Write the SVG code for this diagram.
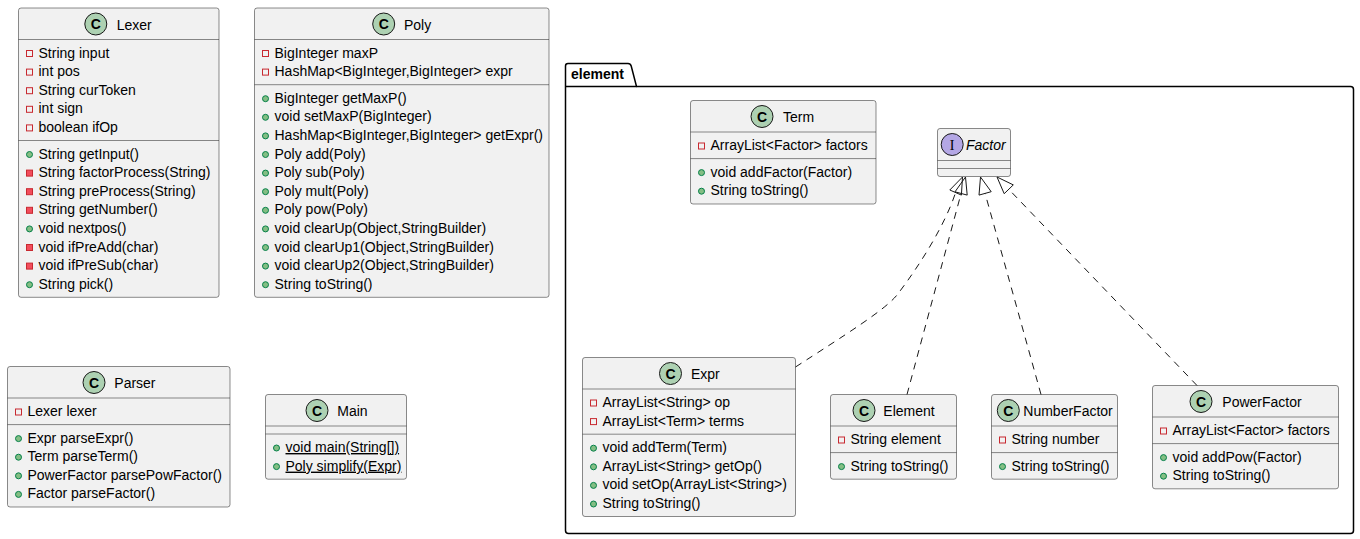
<svg xmlns="http://www.w3.org/2000/svg" width="1360" height="539" viewBox="0 0 1360 539">
<defs>
<style>
text{font-family:"Liberation Sans",Arial,sans-serif;font-size:14px;fill:#000}
.box{fill:#F1F1F1;stroke:#181818;stroke-width:0.5}
.sep{stroke:#181818;stroke-width:0.5}
.ci{fill:#ADD1B2;stroke:#181818;stroke-width:1}
.ii{fill:#B4A7E5;stroke:#181818;stroke-width:1}
.ic{font-size:14px;font-weight:bold;text-anchor:middle}
.pf{fill:none;stroke:#C82930;stroke-width:1}
.pm{fill:#F24D5C;stroke:#C82930;stroke-width:1}
.pub{fill:#84BE84;stroke:#038048;stroke-width:1}
.conn{fill:none;stroke:#181818;stroke-width:1;stroke-dasharray:7,6}
.head{fill:none;stroke:#181818;stroke-width:1}
.pkg{fill:none;stroke:#000;stroke-width:1.5}
</style>
</defs>

<g id="package-element">
<path class="pkg" d="M565.5,86.5 L565.5,66 Q565.5,63.5 568,63.5 L628,63.5 Q630.5,63.5 631.2,66 L636.5,86.5 L1350.5,86.5 Q1353.5,86.5 1353.5,89.5 L1353.5,530.5 Q1353.5,533.5 1350.5,533.5 L568.5,533.5 Q565.5,533.5 565.5,530.5 Z"/>
<line class="pkg" x1="565.5" y1="86.5" x2="636.5" y2="86.5"/>
<text x="571" y="79" style="font-weight:bold">element</text>
</g>

<g id="Lexer">
<rect class="box" x="18.5" y="8" width="200.5" height="289.3" rx="2.5"/>
<circle class="ci" cx="95.8" cy="24" r="11"/><text class="ic" x="95.8" y="29">C</text>
<text x="116.7" y="29.5">Lexer</text>
<line class="sep" x1="18.5" y1="39.5" x2="219" y2="39.5"/>
<rect class="pf" x="26.5" y="50.5" width="6" height="6"/><text x="38.5" y="57.5">String input</text>
<rect class="pf" x="26.5" y="69.1" width="6" height="6"/><text x="38.5" y="76.1">int pos</text>
<rect class="pf" x="26.5" y="87.7" width="6" height="6"/><text x="38.5" y="94.7">String curToken</text>
<rect class="pf" x="26.5" y="106.3" width="6" height="6"/><text x="38.5" y="113.3">int sign</text>
<rect class="pf" x="26.5" y="124.9" width="6" height="6"/><text x="38.5" y="131.9">boolean ifOp</text>
<line class="sep" x1="18.5" y1="140.5" x2="219" y2="140.5"/>
<circle class="pub" cx="29.5" cy="154.5" r="3"/><text x="38.5" y="158.5">String getInput()</text>
<rect class="pm" x="26.5" y="170.1" width="6" height="6"/><text x="38.5" y="177.1">String factorProcess(String)</text>
<rect class="pm" x="26.5" y="188.7" width="6" height="6"/><text x="38.5" y="195.7">String preProcess(String)</text>
<rect class="pm" x="26.5" y="207.3" width="6" height="6"/><text x="38.5" y="214.3">String getNumber()</text>
<circle class="pub" cx="29.5" cy="228.9" r="3"/><text x="38.5" y="232.9">void nextpos()</text>
<rect class="pm" x="26.5" y="244.5" width="6" height="6"/><text x="38.5" y="251.5">void ifPreAdd(char)</text>
<rect class="pm" x="26.5" y="263.1" width="6" height="6"/><text x="38.5" y="270.1">void ifPreSub(char)</text>
<circle class="pub" cx="29.5" cy="284.7" r="3"/><text x="38.5" y="288.7">String pick()</text>
</g>

<g id="Poly">
<rect class="box" x="254.5" y="8" width="294.5" height="289.3" rx="2.5"/>
<circle class="ci" cx="383.7" cy="24" r="11"/><text class="ic" x="383.7" y="29">C</text>
<text x="404" y="29.5">Poly</text>
<line class="sep" x1="254.5" y1="39.5" x2="549" y2="39.5"/>
<rect class="pf" x="262.5" y="50.5" width="6" height="6"/><text x="274.5" y="57.5">BigInteger maxP</text>
<rect class="pf" x="262.5" y="69.1" width="6" height="6"/><text x="274.5" y="76.1">HashMap&lt;BigInteger,BigInteger&gt; expr</text>
<line class="sep" x1="254.5" y1="84.7" x2="549" y2="84.7"/>
<circle class="pub" cx="265.5" cy="98.7" r="3"/><text x="274.5" y="102.7">BigInteger getMaxP()</text>
<circle class="pub" cx="265.5" cy="117.3" r="3"/><text x="274.5" y="121.3">void setMaxP(BigInteger)</text>
<circle class="pub" cx="265.5" cy="135.9" r="3"/><text x="274.5" y="139.9">HashMap&lt;BigInteger,BigInteger&gt; getExpr()</text>
<circle class="pub" cx="265.5" cy="154.5" r="3"/><text x="274.5" y="158.5">Poly add(Poly)</text>
<circle class="pub" cx="265.5" cy="173.1" r="3"/><text x="274.5" y="177.1">Poly sub(Poly)</text>
<circle class="pub" cx="265.5" cy="191.7" r="3"/><text x="274.5" y="195.7">Poly mult(Poly)</text>
<circle class="pub" cx="265.5" cy="210.3" r="3"/><text x="274.5" y="214.3">Poly pow(Poly)</text>
<circle class="pub" cx="265.5" cy="228.9" r="3"/><text x="274.5" y="232.9">void clearUp(Object,StringBuilder)</text>
<circle class="pub" cx="265.5" cy="247.5" r="3"/><text x="274.5" y="251.5">void clearUp1(Object,StringBuilder)</text>
<circle class="pub" cx="265.5" cy="266.1" r="3"/><text x="274.5" y="270.1">void clearUp2(Object,StringBuilder)</text>
<circle class="pub" cx="265.5" cy="284.7" r="3"/><text x="274.5" y="288.7">String toString()</text>
</g>

<g id="Parser">
<rect class="box" x="7.5" y="366.5" width="222.5" height="140.5" rx="2.5"/>
<circle class="ci" cx="94" cy="382.5" r="11"/><text class="ic" x="94" y="387.5">C</text>
<text x="114.3" y="388">Parser</text>
<line class="sep" x1="7.5" y1="398" x2="230" y2="398"/>
<rect class="pf" x="15.5" y="409" width="6" height="6"/><text x="27.5" y="416">Lexer lexer</text>
<line class="sep" x1="7.5" y1="424.6" x2="230" y2="424.6"/>
<circle class="pub" cx="18.5" cy="438.6" r="3"/><text x="27.5" y="442.6">Expr parseExpr()</text>
<circle class="pub" cx="18.5" cy="457.2" r="3"/><text x="27.5" y="461.2">Term parseTerm()</text>
<circle class="pub" cx="18.5" cy="475.8" r="3"/><text x="27.5" y="479.8">PowerFactor parsePowFactor()</text>
<circle class="pub" cx="18.5" cy="494.4" r="3"/><text x="27.5" y="498.4">Factor parseFactor()</text>
</g>

<g id="Main">
<rect class="box" x="265.5" y="394.5" width="141" height="84.7" rx="2.5"/>
<circle class="ci" cx="317" cy="410.5" r="11"/><text class="ic" x="317" y="415.5">C</text>
<text x="337.3" y="416">Main</text>
<line class="sep" x1="265.5" y1="426" x2="406.5" y2="426"/>
<line class="sep" x1="265.5" y1="434" x2="406.5" y2="434"/>
<circle class="pub" cx="276.5" cy="448" r="3"/><text x="285.5" y="452" text-decoration="underline">void main(String[])</text>
<circle class="pub" cx="276.5" cy="466.6" r="3"/><text x="285.5" y="470.6" text-decoration="underline">Poly simplify(Expr)</text>
</g>

<g id="Term">
<rect class="box" x="690.5" y="100.5" width="185.5" height="103.5" rx="2.5"/>
<circle class="ci" cx="762" cy="116.5" r="11"/><text class="ic" x="762" y="121.5">C</text>
<text x="783" y="122">Term</text>
<line class="sep" x1="690.5" y1="132" x2="876" y2="132"/>
<rect class="pf" x="698.5" y="143" width="6" height="6"/><text x="710.5" y="150">ArrayList&lt;Factor&gt; factors</text>
<line class="sep" x1="690.5" y1="158.6" x2="876" y2="158.6"/>
<circle class="pub" cx="701.5" cy="172.6" r="3"/><text x="710.5" y="176.6">void addFactor(Factor)</text>
<circle class="pub" cx="701.5" cy="191.2" r="3"/><text x="710.5" y="195.2">String toString()</text>
</g>

<g id="Factor">
<rect class="box" x="937.5" y="128.5" width="73" height="48" rx="2.5"/>
<circle class="ii" cx="952.2" cy="144.5" r="11"/><text class="ic" x="952.2" y="149.5" style="font-family:'Liberation Serif',serif;font-weight:normal">I</text>
<text x="966" y="150" style="font-style:italic">Factor</text>
<line class="sep" x1="937.5" y1="160.5" x2="1010.5" y2="160.5"/>
<line class="sep" x1="937.5" y1="168.5" x2="1010.5" y2="168.5"/>
</g>

<g id="Expr">
<rect class="box" x="582.5" y="357.5" width="213" height="159" rx="2.5"/>
<circle class="ci" cx="670.5" cy="373.5" r="11"/><text class="ic" x="670.5" y="378.5">C</text>
<text x="691" y="379">Expr</text>
<line class="sep" x1="582.5" y1="389" x2="795.5" y2="389"/>
<rect class="pf" x="590.5" y="400" width="6" height="6"/><text x="602.5" y="407">ArrayList&lt;String&gt; op</text>
<rect class="pf" x="590.5" y="418.6" width="6" height="6"/><text x="602.5" y="425.6">ArrayList&lt;Term&gt; terms</text>
<line class="sep" x1="582.5" y1="434.2" x2="795.5" y2="434.2"/>
<circle class="pub" cx="593.5" cy="448.2" r="3"/><text x="602.5" y="452.2">void addTerm(Term)</text>
<circle class="pub" cx="593.5" cy="466.8" r="3"/><text x="602.5" y="470.8">ArrayList&lt;String&gt; getOp()</text>
<circle class="pub" cx="593.5" cy="485.4" r="3"/><text x="602.5" y="489.4">void setOp(ArrayList&lt;String&gt;)</text>
<circle class="pub" cx="593.5" cy="504" r="3"/><text x="602.5" y="508">String toString()</text>
</g>

<g id="Element">
<rect class="box" x="830.5" y="394.5" width="126" height="84.7" rx="2.5"/>
<circle class="ci" cx="864" cy="410.5" r="11"/><text class="ic" x="864" y="415.5">C</text>
<text x="883.3" y="416">Element</text>
<line class="sep" x1="830.5" y1="426" x2="956.5" y2="426"/>
<rect class="pf" x="838.5" y="437" width="6" height="6"/><text x="850.5" y="444">String element</text>
<line class="sep" x1="830.5" y1="452.6" x2="956.5" y2="452.6"/>
<circle class="pub" cx="841.5" cy="466.6" r="3"/><text x="850.5" y="470.6">String toString()</text>
</g>

<g id="NumberFactor">
<rect class="box" x="991.5" y="394.5" width="126" height="84.7" rx="2.5"/>
<circle class="ci" cx="1008.3" cy="410.5" r="11"/><text class="ic" x="1008.3" y="415.5">C</text>
<text x="1023.3" y="416">NumberFactor</text>
<line class="sep" x1="991.5" y1="426" x2="1117.5" y2="426"/>
<rect class="pf" x="999.5" y="437" width="6" height="6"/><text x="1011.5" y="444">String number</text>
<line class="sep" x1="991.5" y1="452.6" x2="1117.5" y2="452.6"/>
<circle class="pub" cx="1002.5" cy="466.6" r="3"/><text x="1011.5" y="470.6">String toString()</text>
</g>

<g id="PowerFactor">
<rect class="box" x="1152.5" y="385.5" width="186" height="103.3" rx="2.5"/>
<circle class="ci" cx="1201" cy="401.5" r="11"/><text class="ic" x="1201" y="406.5">C</text>
<text x="1222.3" y="407">PowerFactor</text>
<line class="sep" x1="1152.5" y1="417" x2="1338.5" y2="417"/>
<rect class="pf" x="1160.5" y="428" width="6" height="6"/><text x="1172.5" y="435">ArrayList&lt;Factor&gt; factors</text>
<line class="sep" x1="1152.5" y1="443.6" x2="1338.5" y2="443.6"/>
<circle class="pub" cx="1163.5" cy="457.6" r="3"/><text x="1172.5" y="461.6">void addPow(Factor)</text>
<circle class="pub" cx="1163.5" cy="476.2" r="3"/><text x="1172.5" y="480.2">String toString()</text>
</g>

<g id="connectors">
<path class="conn" d="M795.5,367 C845,335 885,310 897,295 C920,265 945,225 955.6,192.5"/>
<polygon class="head" points="962.5,177 961.4,195.1 949.8,190"/>
<line class="conn" x1="907" y1="394.5" x2="961.1" y2="193.4"/>
<polygon class="head" points="965.5,177 967.2,195.1 955,191.8"/>
<line class="conn" x1="1041" y1="394.5" x2="985.1" y2="193.4"/>
<polygon class="head" points="980.5,177 991.2,191.7 979,195.1"/>
<line class="conn" x1="1197" y1="385.5" x2="1008.8" y2="189.3"/>
<polygon class="head" points="997,177 1013.3,184.9 1004.2,193.7"/>
</g>
</svg>
